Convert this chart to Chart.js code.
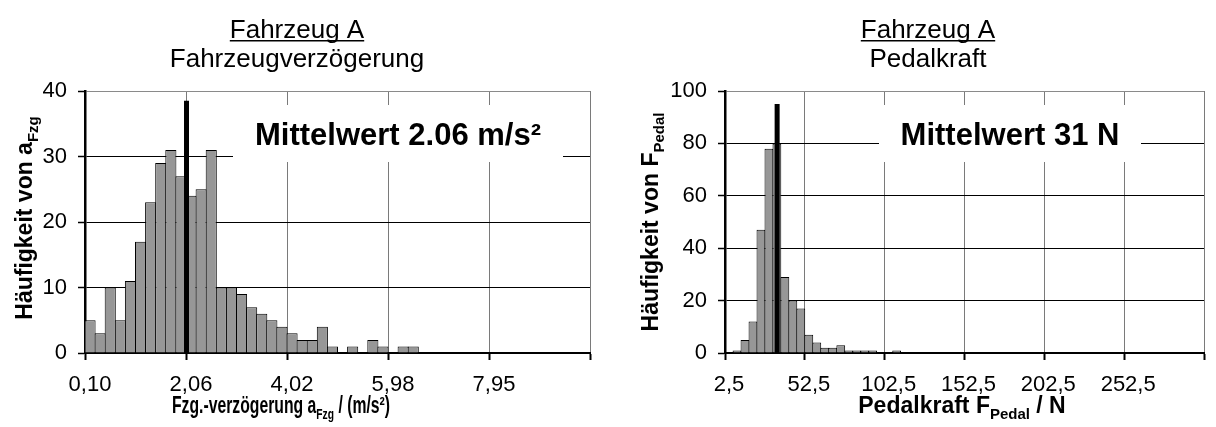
<!DOCTYPE html>
<html>
<head>
<meta charset="utf-8">
<script src="https://cdn.jsdelivr.net/npm/chart.js@4.4.1/dist/chart.umd.min.js"></script>
<style>
  html, body { margin: 0; padding: 0; background: #fff; }
  #wrap { position: relative; width: 1216px; height: 427px; }
  canvas { position: absolute; top: 0; }
</style>
</head>
<body>
<div id="wrap">
  <canvas id="chartA" width="608" height="427" style="left:0"></canvas>
  <canvas id="chartB" width="608" height="427" style="left:608px"></canvas>
</div>
<script>
// Fahrzeugverzögerung: 50 Klassen, Beschriftung an jeder 10. Klasse
const aTickLabels = ['0,10', '2,06', '4,02', '5,98', '7,95'];
const aCounts = [5, 3, 10, 5, 11, 17, 23, 29, 31, 27,
                 24, 25, 31, 10, 10, 9, 7, 6, 5, 4,
                 3, 2, 2, 4, 1, 0, 1, 0, 2, 1,
                 0, 1, 1, 0, 0, 0, 0, 0, 0, 0,
                 0, 0, 0, 0, 0, 0, 0, 0, 0, 0];
// Mittelwert-Linie: Lage (in Klassen) und Höhe wie im Bild
const aMeanLine = [10.05, 38.5];

// Pedalkraft: 60 Klassen zu 5 N
const fTickLabels = ['2,5', '52,5', '102,5', '152,5', '202,5', '252,5'];
const fCounts = [0, 1, 5, 12, 47, 78, 80, 29, 20, 17,
                 7, 4, 2, 2, 3, 1, 1, 1, 1, 0,
                 0, 1, 0, 0, 0, 0, 0, 0, 0, 0,
                 0, 0, 0, 0, 0, 0, 0, 0, 0, 0,
                 0, 0, 0, 0, 0, 0, 0, 0, 0, 0,
                 0, 0, 0, 0, 0, 0, 0, 0, 0, 0];
const fMeanLine = [6.53, 95];

const FONT = '"Liberation Sans", Arial, sans-serif';
Chart.defaults.font.family = FONT;
Chart.defaults.color = '#000';

// draws text made of normal and subscript parts, centred on x
// (maxW squeezes the text horizontally if it is wider)
function drawParts(ctx, parts, x, y, size, maxW) {
  const subSize = Math.round(size * 0.65);
  let total = 0;
  parts.forEach(p => {
    ctx.font = 'bold ' + (p.sub ? subSize : size) + 'px ' + FONT;
    p.w = ctx.measureText(p.t).width;
    total += p.w;
  });
  const k = maxW && total > maxW ? maxW / total : 1;
  ctx.save();
  ctx.translate(x, y);
  ctx.scale(k, 1);
  let cx = -total / 2;
  ctx.textAlign = 'left';
  ctx.textBaseline = 'alphabetic';
  parts.forEach(p => {
    ctx.font = 'bold ' + (p.sub ? subSize : size) + 'px ' + FONT;
    ctx.fillText(p.t, cx, p.sub ? size * 0.25 : 0);
    cx += p.w;
  });
  ctx.restore();
}

const decor = {
  id: 'decor',
  afterDraw(chart, args, o) {
    const ctx = chart.ctx;
    ctx.save();
    ctx.fillStyle = '#000';

    // title, first line underlined
    ctx.font = '26px ' + FONT;
    ctx.textAlign = 'center';
    ctx.textBaseline = 'alphabetic';
    ctx.fillText(o.head[0], o.headX, 38);
    const w = ctx.measureText(o.head[0]).width;
    ctx.fillRect(o.headX - w / 2, 40, w, 1.5);
    ctx.fillText(o.head[1], o.headX, 67);

    // Mittelwert box
    ctx.fillStyle = '#fff';
    ctx.fillRect(o.box[0], o.box[1], o.box[2], o.box[3]);
    ctx.fillStyle = '#000';
    ctx.font = 'bold 31px ' + FONT;
    ctx.textAlign = 'center';
    ctx.fillText(o.meanText, o.box[0] + o.box[2] / 2 + o.textDx, 145);

    // axis titles
    drawParts(ctx, o.xTitle, o.xTitleX, 413, 23, o.xTitleW);
    ctx.save();
    ctx.translate(o.yTitleX, o.yTitleY);
    ctx.rotate(-Math.PI / 2);
    drawParts(ctx, o.yTitle, 0, 0, 23);
    ctx.restore();

    ctx.restore();
  }
};

function makeChart(id, counts, tickLabels, meanLine, yMax, yStep, pad, yAxisW, labelOffset, decorOpts) {
  const bins = counts.length;
  return new Chart(document.getElementById(id), {
    type: 'bar',
    data: {
      datasets: [{
        type: 'line',
        data: [{ x: meanLine[0], y: 0 }, { x: meanLine[0], y: meanLine[1] }],
        borderColor: '#000',
        borderWidth: 5,
        borderCapStyle: 'butt',
        pointRadius: 0,
        order: 0
      }, {
        data: counts.map((v, i) => ({ x: i + 0.5, y: v })),
        backgroundColor: '#979797',
        borderColor: '#000',
        borderWidth: 1,
        borderSkipped: 'bottom',
        barPercentage: 1.1,
        categoryPercentage: 1,
        order: 1
      }]
    },
    options: {
      responsive: false,
      animation: false,
      layout: { padding: { top: 91, right: pad, left: 0, bottom: 0 } },
      plugins: {
        legend: { display: false },
        tooltip: { enabled: false },
        decor: decorOpts
      },
      scales: {
        x: {
          type: 'linear',
          min: 0,
          max: bins,
          offset: false,
          afterFit: s => { s.height = 74; },
          border: { color: '#000', width: 2 },
          grid: { offset: false, color: '#7a7a7a', lineWidth: 1, tickColor: '#000', tickLength: 7, tickWidth: 2 },
          ticks: {
            stepSize: 10,
            autoSkip: false,
            maxRotation: 0,
            padding: 12,
            labelOffset: labelOffset,
            font: { size: 22 },
            callback: v => tickLabels[v / 10] || ''
          }
        },
        y: {
          min: 0,
          max: yMax,
          afterFit: s => { s.width = yAxisW; },
          border: { color: '#000', width: 2.5 },
          grid: {
            color: c => c.tick.value === yMax ? '#8a8a8a' : '#000',
            lineWidth: 1,
            tickColor: '#000',
            tickLength: 7,
            tickWidth: 1.5
          },
          ticks: { stepSize: yStep, padding: 11, font: { size: 22 } }
        }
      }
    },
    plugins: [decor]
  });
}

makeChart('chartA', aCounts, aTickLabels, aMeanLine, 40, 10, 18, 85, 5, {
  head: ['Fahrzeug A', 'Fahrzeugverzögerung'],
  headX: 297,
  box: [233, 105, 330, 57],
  textDx: 0,
  meanText: 'Mittelwert 2.06 m/s²',
  xTitle: [{ t: 'Fzg.-verzögerung a' }, { t: 'Fzg', sub: true }, { t: ' / (m/s²)' }],
  xTitleX: 281,
  xTitleW: 218,
  yTitle: [{ t: 'Häufigkeit von a' }, { t: 'Fzg', sub: true }],
  yTitleX: 32,
  yTitleY: 218
});

makeChart('chartB', fCounts, fTickLabels, fMeanLine, 100, 20, 1, 117, 4, {
  head: ['Fahrzeug A', 'Pedalkraft'],
  headX: 320,
  box: [271, 105, 262, 57],
  textDx: 0,
  meanText: 'Mittelwert 31 N',
  xTitle: [{ t: 'Pedalkraft F' }, { t: 'Pedal', sub: true }, { t: ' / N' }],
  xTitleX: 354,
  yTitle: [{ t: 'Häufigkeit von F' }, { t: 'Pedal', sub: true }],
  yTitleX: 50,
  yTitleY: 222
});
</script>
</body>
</html>
